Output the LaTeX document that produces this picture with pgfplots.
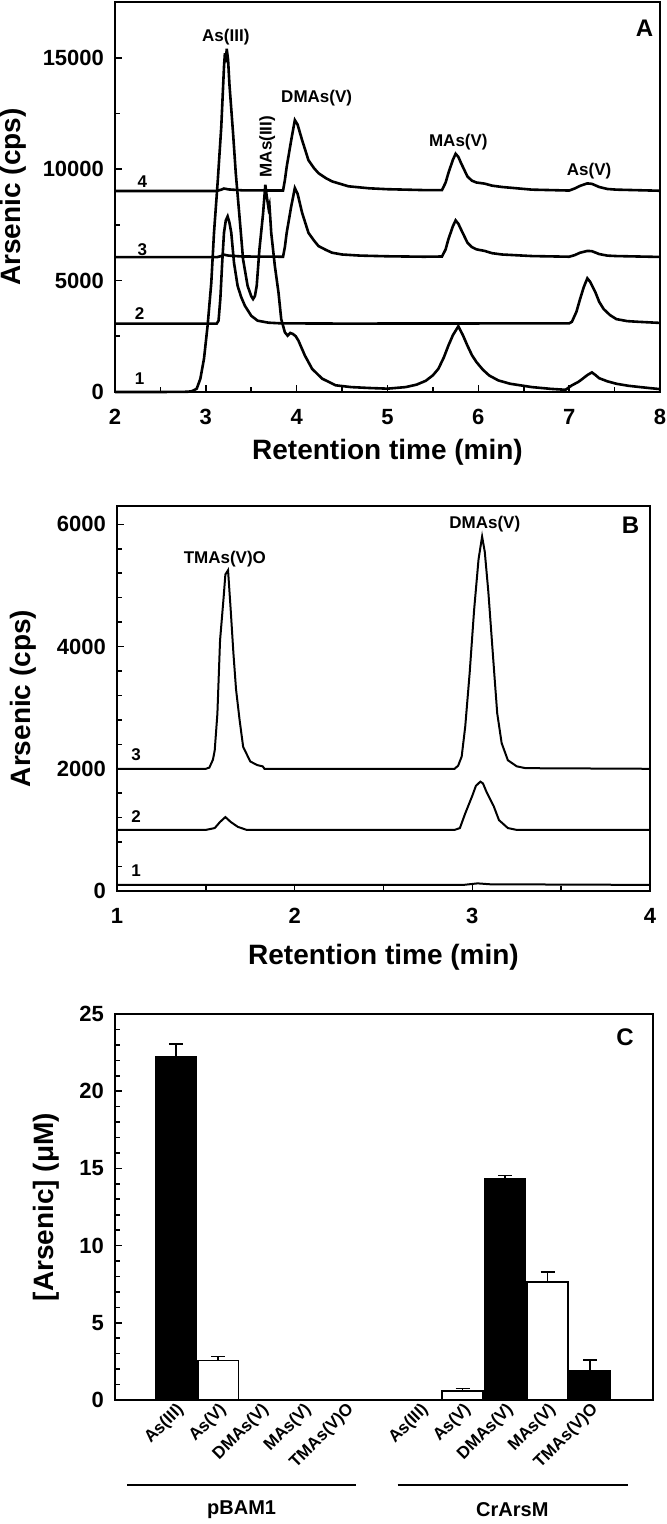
\documentclass[border=0pt]{standalone}
\usepackage{pgfplots}
\pgfplotsset{compat=1.18}
\usepackage{fontspec}
\setmainfont{Liberation Sans}
\begin{document}
\begin{tikzpicture}
\useasboundingbox (0,0) rectangle (333pt,-762pt);
\tikzset{
 ann/.style={font=\fontsize{8.5}{10}\selectfont\bfseries},
 lett/.style={font=\fontsize{12}{14}\selectfont\bfseries},
}
\pgfplotsset{
 mystyle/.style={
  scale only axis,
  clip=false,
  axis line style={line width=0.9pt},
  tick align=inside,
  xtick pos=bottom, ytick pos=left,
  major tick length=3.5pt, minor tick length=2.5pt,
  tick style={black, line width=0.8pt},
  tick label style={font=\fontsize{11}{13}\selectfont\bfseries},
  /pgf/number format/assume math mode=true,
  /pgf/number format/1000 sep={},
  scaled y ticks=false,
  label style={font=\fontsize{14}{16}\selectfont\bfseries},
  xticklabel style={yshift=-5pt},
  yticklabel style={xshift=-2pt},
 },
}
% ---------------- Panel A ----------------
\begin{axis}[mystyle, at={(57.5pt,-196pt)}, anchor=south west,
  width=272.5pt, height=195pt,
  xmin=2, xmax=8, ymin=0, ymax=17500,
  xtick={2,...,8}, minor x tick num=1,
  ytick={0,5000,10000,15000}, minor y tick num=1,
  xlabel={Retention time (min)}, ylabel={Arsenic (cps)},
  xlabel style={at={(axis description cs:0.5,-0.154)}, anchor=center},
  ylabel style={at={(axis description cs:-0.187,0.5)}, anchor=center},
]
\addplot[black, line width=1.3pt] coordinates {
(2,0)(2.5,0)(2.8,10)(2.85,40)(2.9,150)(2.94,600)(2.98,1500)(3.02,3000)(3.06,4900)(3.09,7150)(3.13,9400)(3.17,11900)(3.2,14600)(3.21,15200)(3.22,14800)(3.23,15400)(3.245,14900)(3.26,13800)(3.3,11600)(3.33,9800)(3.37,7900)(3.41,5950)(3.46,4760)(3.5,4300)(3.52,4170)(3.54,4300)(3.56,4760)(3.59,6400)(3.63,8000)(3.655,9300)(3.67,8800)(3.69,8260)(3.7,8400)(3.72,7140)(3.76,5650)(3.8,4460)(3.83,3270)(3.87,2680)(3.9,2530)(3.93,2650)(3.96,2600)(3.99,2500)(4.02,2300)(4.09,1640)(4.17,1040)(4.28,600)(4.43,300)(4.6,220)(4.8,180)(5.0,150)(5.2,220)(5.32,330)(5.42,500)(5.5,750)(5.56,1040)(5.62,1550)(5.67,2080)(5.72,2550)(5.78,2950)(5.83,2550)(5.88,2080)(5.93,1650)(5.98,1340)(6.05,1000)(6.12,740)(6.22,520)(6.35,370)(6.59,220)(6.8,140)(6.96,100)(7.03,300)(7.1,450)(7.15,600)(7.2,760)(7.25,880)(7.29,760)(7.33,620)(7.42,480)(7.52,370)(7.65,280)(7.76,230)(7.9,170)(8,130)
};
\addplot[black, line width=1.3pt] coordinates {
(2,3070)(3.12,3070)(3.14,3200)(3.16,4200)(3.18,5800)(3.2,7150)(3.22,7700)(3.24,7880)(3.26,7600)(3.28,7150)(3.31,5800)(3.35,4760)(3.39,4250)(3.43,3870)(3.5,3420)(3.57,3200)(3.69,3110)(3.83,3080)(4.5,3070)(7.0,3080)(7.03,3150)(7.08,3600)(7.12,4170)(7.16,4700)(7.2,5100)(7.23,4950)(7.29,4460)(7.33,4050)(7.38,3720)(7.45,3450)(7.52,3270)(7.64,3180)(7.76,3150)(8,3100)
};
\addplot[black, line width=1.3pt] coordinates {
(2,6050)(3.12,6050)(3.17,6100)(3.2,6160)(3.25,6120)(3.4,6080)(3.85,6070)(3.87,6500)(3.89,7140)(3.94,8330)(3.98,9150)(4.01,8900)(4.06,8040)(4.13,7140)(4.19,6800)(4.24,6550)(4.32,6380)(4.39,6250)(4.5,6170)(4.7,6120)(5.0,6090)(5.4,6070)(5.6,6080)(5.64,6400)(5.67,6850)(5.72,7440)(5.75,7700)(5.78,7550)(5.81,7290)(5.88,6700)(5.93,6500)(5.98,6400)(6.07,6330)(6.15,6230)(6.26,6170)(6.59,6100)(7.0,6070)(7.06,6140)(7.12,6250)(7.2,6330)(7.25,6320)(7.33,6190)(7.42,6120)(7.52,6100)(8,6060)
};
\addplot[black, line width=1.3pt] coordinates {
(2,9020)(3.12,9020)(3.17,9080)(3.2,9130)(3.25,9090)(3.4,9050)(3.85,9040)(3.87,9500)(3.89,10100)(3.94,11300)(3.98,12200)(4.01,12000)(4.06,11300)(4.13,10400)(4.19,10050)(4.24,9820)(4.32,9600)(4.39,9450)(4.57,9230)(4.8,9140)(5.0,9100)(5.4,9060)(5.6,9060)(5.64,9400)(5.67,9820)(5.72,10420)(5.75,10690)(5.78,10550)(5.81,10270)(5.88,9670)(5.93,9480)(5.98,9400)(6.07,9350)(6.15,9260)(6.26,9200)(6.59,9080)(7.0,9040)(7.06,9130)(7.12,9250)(7.2,9360)(7.25,9340)(7.33,9200)(7.42,9110)(7.52,9080)(8,9030)
};
\node[ann] at (axis cs:3.22,15920) {As(III)};
\node[ann, rotate=90] at (axis cs:3.675,11010) {MAs(III)};
\node[ann] at (axis cs:4.22,13170) {DMAs(V)};
\node[ann] at (axis cs:5.78,11235) {MAs(V)};
\node[ann] at (axis cs:7.22,9900) {As(V)};
\node[ann] at (axis cs:2.3,9450) {4};
\node[ann] at (axis cs:2.3,6400) {3};
\node[ann] at (axis cs:2.27,3500) {2};
\node[ann] at (axis cs:2.27,600) {1};
\node[lett] at (axis cs:7.83,16300) {A};
\end{axis}
% ---------------- Panel B ----------------
\begin{axis}[mystyle, at={(58.5pt,-445.5pt)}, anchor=south west,
  width=266.5pt, height=192.5pt,
  xmin=1, xmax=4, ymin=0, ymax=6300,
  xtick={1,2,3,4}, minor x tick num=1,
  ytick={0,2000,4000,6000}, minor y tick num=4,
  xlabel={Retention time (min)}, ylabel={Arsenic (cps)},
  xlabel style={at={(axis description cs:0.5,-0.171)}, anchor=center},
  ylabel style={at={(axis description cs:-0.176,0.5)}, anchor=center},
]
\addplot[black, line width=1pt] coordinates {
(1,2000)(1.5,2000)(1.52,2020)(1.54,2150)(1.55,2300)(1.565,2900)(1.58,4100)(1.6,4800)(1.61,5180)(1.625,5250)(1.64,4600)(1.655,3900)(1.67,3300)(1.69,2800)(1.71,2360)(1.75,2120)(1.79,2060)(1.82,2040)(1.83,2000)(2.9,2000)(2.92,2050)(2.94,2200)(2.96,2690)(2.985,3570)(3.01,4600)(3.035,5430)(3.055,5800)(3.07,5550)(3.09,4900)(3.11,4100)(3.125,3500)(3.14,2910)(3.165,2420)(3.2,2140)(3.25,2040)(3.3,2010)(4,2000)
};
\addplot[black, line width=1pt] coordinates {
(1,1000)(1.5,1000)(1.55,1030)(1.58,1130)(1.61,1210)(1.64,1130)(1.68,1050)(1.73,1000)(2.9,1000)(2.93,1030)(2.96,1270)(3.0,1560)(3.02,1720)(3.045,1790)(3.06,1760)(3.08,1620)(3.12,1390)(3.15,1160)(3.2,1030)(3.25,1000)(4,1000)
};
\addplot[black, line width=1pt] coordinates {
(1,100)(2.95,100)(3.03,125)(3.1,110)(4,100)
};
\node[ann] at (axis cs:1.607,5437) {TMAs(V)O};
\node[ann] at (axis cs:3.07,6000) {DMAs(V)};
\node[ann] at (axis cs:1.107,2226) {3};
\node[ann] at (axis cs:1.107,1214) {2};
\node[ann] at (axis cs:1.107,339) {1};
\node[lett] at (axis cs:3.89,5985) {B};
\end{axis}
% ---------------- Panel C ----------------
\begin{axis}[mystyle, at={(57.5pt,-700pt)}, anchor=south west,
  width=269pt, height=193pt,
  xmin=-0.43, xmax=12.23, ymin=0, ymax=25,
  ytick={0,5,10,15,20,25}, minor y tick num=4,
  xtick={1,2,3,4,5,6.75,7.75,8.75,9.75,10.75},
  xticklabels={As(III),As(V),DMAs(V),MAs(V),TMAs(V)O,As(III),As(V),DMAs(V),MAs(V),TMAs(V)O},
  xtick style={draw=none},
  xticklabel style={rotate=45, anchor=east, inner sep=1pt, yshift=-1pt, xshift=4pt, font=\fontsize{8.5}{10}\selectfont\bfseries},
  ylabel={[Arsenic] (μM)},
  ylabel style={at={(axis description cs:-0.128,0.5)}, anchor=center},
]
\addplot[ybar, bar shift=0pt, bar width=0.96, fill=black, draw=black, line width=0.8pt,
  error bars/.cd, y dir=plus, y explicit,
  error bar style={line width=0.8pt},
  error mark options={rotate=90, mark size=3.5pt, line width=0.8pt}]
 coordinates {(1,22.2) +- (0,0.85) (8.75,14.3) +- (0,0.25) (10.75,1.9) +- (0,0.7)};
\addplot[ybar, bar shift=0pt, bar width=0.96, fill=white, draw=black, line width=0.8pt,
  error bars/.cd, y dir=plus, y explicit,
  error bar style={line width=0.8pt},
  error mark options={rotate=90, mark size=3.5pt, line width=0.8pt}]
 coordinates {(2,2.55) +- (0,0.28) (7.75,0.6) +- (0,0.15) (9.75,7.65) +- (0,0.65)};
\draw[line width=1.2pt] (axis cs:-0.14,-5.5) -- (axis cs:5.24,-5.5);
\draw[line width=1.2pt] (axis cs:6.22,-5.5) -- (axis cs:11.64,-5.5);
\node[font=\fontsize{10}{12}\selectfont\bfseries] at (axis cs:2.55,-7.1) {pBAM1};
\node[font=\fontsize{10}{12}\selectfont\bfseries] at (axis cs:8.92,-7.1) {CrArsM};
\node[lett] at (axis cs:11.57,23.5) {C};
\end{axis}
\end{tikzpicture}
\end{document}
